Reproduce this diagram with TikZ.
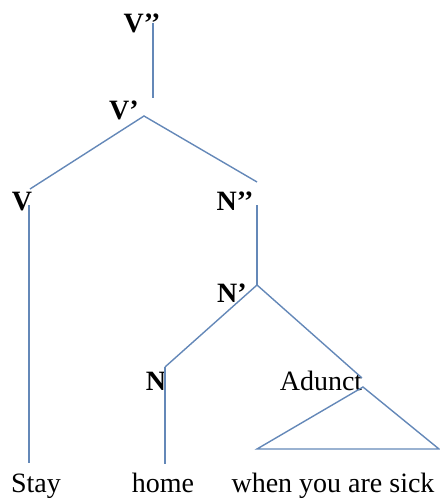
\documentclass[tikz,border=0pt]{standalone}
\usepackage{fontspec}
\setmainfont{Liberation Serif}
\begin{document}
\begin{tikzpicture}[x=1pt,y=-1pt,
  lab/.style={inner sep=0pt,anchor=base,font=\bfseries\fontsize{28}{32}\selectfont},
  word/.style={inner sep=0pt,anchor=base,font=\fontsize{28}{32}\selectfont},
  branch/.style={line width=1.4pt,color={rgb,255:red,100;green,136;blue,184}}]
\useasboundingbox (0,0) rectangle (439,500);
% labels
\node[lab] (vpp) at (142,33) {V’’};
\node[lab] (vp) at (124,120) {V’};
\node[lab] (v) at (22,210) {V};
\node[lab] (npp) at (235,210) {N’’};
\node[lab] (np) at (232,302) {N’};
\node[lab] (n) at (156,390) {N};
\node[word] (adj) at (321,390) {Adunct};
\node[word] (stay) at (36,492) {Stay};
\node[word] (home) at (163,492) {home};
\node[word] (sick) at (333,492) {when you are sick};
% junction points
\coordinate (vpptop) at (153,23);
\coordinate (vppbot) at (153,98);
\coordinate (vpapex) at (144,116);
\coordinate (vend) at (30,189);
\coordinate (vtop) at (29,205);
\coordinate (vbot) at (29,463);
\coordinate (nppend) at (257,182);
\coordinate (npptop) at (257,205);
\coordinate (npapex) at (257,285);
\coordinate (nend) at (165,367);
\coordinate (nbot) at (165,464);
\coordinate (adjend) at (362,378);
\coordinate (adjapex) at (363,387);
\coordinate (trileft) at (257,449);
\coordinate (triright) at (439,449);
% branches
\draw[branch] (vpptop) -- (vppbot);
\draw[branch] (vend) -- (vpapex) -- (nppend);
\draw[branch] (vtop) -- (vbot);
\draw[branch] (npptop) -- (npapex);
\draw[branch] (nend) -- (npapex) -- (adjend);
\draw[branch] (nend) -- (nbot);
\draw[branch] (adjapex) -- (trileft) -- (triright) -- cycle;
\end{tikzpicture}
\end{document}
